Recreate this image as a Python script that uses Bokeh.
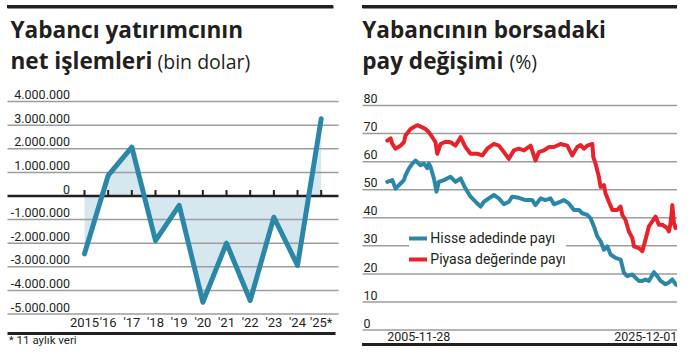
import math
from bokeh.plotting import figure
from bokeh.models import Range1d, Label, Legend, LegendItem
from bokeh.layouts import row
from bokeh.embed import file_html
from bokeh.resources import INLINE
from bokeh.core.properties import value

# ---------------- data: left chart (net transactions, thousand USD) ----------------
years = [2015, 2016, 2017, 2018, 2019, 2020, 2021, 2022, 2023, 2024, 2025]
year_labels = ["2015", "'16", "'17", "'18", "'19", "'20", "'21", "'22", "'23", "'24", "'25*"]
net_flows = [-2450000, 870000, 2070000, -1890000, -400000, -4500000,
             -2000000, -4430000, -900000, -2940000, 3270000]
left_ticks = [4000000, 3000000, 2000000, 1000000, 0, -1000000,
              -2000000, -3000000, -4000000, -5000000]
left_tick_labels = ["4.000.000", "3.000.000", "2.000.000", "1.000.000", "0",
                    "-1.000.000", "-2.000.000", "-3.000.000", "-4.000.000", "-5.000.000"]

# ---------------- data: right chart (foreign share, %) ----------------
count_t = [2005.91, 2006.26, 2006.48, 2006.83, 2007.06, 2007.17, 2007.40, 2007.64, 2007.86,
           2008.21, 2008.44, 2008.67, 2008.78, 2008.90, 2009.13, 2009.31, 2009.47, 2009.82,
           2010.28, 2010.62, 2010.97, 2011.31, 2011.66, 2012.12, 2012.35, 2012.58, 2012.92,
           2013.27, 2013.61, 2013.96, 2014.30, 2014.53, 2014.99, 2015.45, 2015.91, 2016.14,
           2016.49, 2016.83, 2017.18, 2017.41, 2017.75, 2018.10, 2018.44, 2018.79, 2019.13,
           2019.37, 2019.71, 2019.94, 2020.17, 2020.40, 2020.63, 2020.86, 2021.09, 2021.32,
           2021.66, 2022.01, 2022.24, 2022.47, 2022.82, 2023.04, 2023.27, 2023.51, 2023.73,
           2023.96, 2024.31, 2024.54, 2024.77, 2025.11, 2025.34, 2025.58, 2025.80, 2025.92]
count_share = [52.8, 53.4, 50.4, 52.2, 53.4, 55.1, 57.5, 59.3, 60.4,
               58.7, 59.3, 57.7, 59.3, 58.1, 54.0, 49.3, 52.8, 53.4,
               54.6, 52.8, 54.0, 50.4, 47.5, 45.1, 44.0, 45.7, 46.9,
               48.1, 46.9, 44.8, 45.7, 47.5, 47.1, 46.3, 46.3, 44.5,
               46.9, 46.3, 46.9, 44.8, 45.5, 46.3, 45.1, 42.8, 42.8,
               41.6, 41.0, 39.8, 36.9, 33.4, 31.6, 28.6, 29.8, 26.9,
               25.7, 25.1, 20.4, 19.2, 19.8, 18.6, 17.5, 17.5, 18.0,
               17.5, 20.6, 19.2, 17.5, 16.3, 16.9, 18.0, 16.3, 15.9]
value_t = [2005.91, 2006.14, 2006.26, 2006.48, 2006.83, 2007.06, 2007.17, 2007.52, 2007.98,
           2008.33, 2008.55, 2008.78, 2009.02, 2009.24, 2009.36, 2009.59, 2009.93, 2010.28,
           2010.62, 2010.97, 2011.31, 2011.66, 2012.12, 2012.47, 2012.81, 2013.27, 2013.61,
           2013.96, 2014.30, 2014.65, 2014.99, 2015.34, 2015.80, 2016.14, 2016.37, 2016.72,
           2017.06, 2017.41, 2017.87, 2018.33, 2018.67, 2019.02, 2019.25, 2019.48, 2019.71,
           2020.06, 2020.13, 2020.28, 2020.51, 2020.63, 2020.86, 2020.97, 2021.20, 2021.44,
           2021.78, 2022.01, 2022.13, 2022.35, 2022.58, 2022.82, 2022.93, 2023.27, 2023.51,
           2023.73, 2023.96, 2024.20, 2024.42, 2024.65, 2024.89, 2025.23, 2025.34, 2025.46,
           2025.58, 2025.69, 2025.80, 2025.92]
value_share = [67.5, 68.3, 66.3, 64.6, 65.7, 66.9, 69.3, 71.6, 73.0,
               72.2, 71.6, 70.5, 68.7, 66.9, 62.8, 66.3, 67.1, 66.9,
               65.7, 68.7, 65.2, 62.8, 62.8, 62.2, 64.6, 66.3, 65.7,
               63.4, 61.0, 64.0, 64.6, 64.0, 65.7, 60.4, 63.4, 64.0,
               65.2, 65.2, 66.3, 65.7, 62.2, 65.2, 65.9, 64.6, 65.7,
               66.3, 61.6, 59.3, 54.6, 51.0, 51.6, 48.7, 45.7, 42.8,
               42.8, 44.0, 41.0, 39.2, 35.1, 32.8, 29.8, 29.2, 28.1,
               32.2, 36.9, 38.7, 40.4, 37.5, 37.5, 36.3, 35.1, 38.1,
               44.5, 38.1, 36.3, 36.9]
right_ticks = [0, 10, 20, 30, 40, 50, 60, 70, 80]
right_tick_labels = ["0", "10", "20", "30", "40", "50", "60", "70", "80"]
date_labels = ["2005-11-28", "2025-12-01"]
legend_labels = ["Hisse adedinde payı", "Piyasa değerinde payı"]

# ---------------- styling ----------------
INK = "#231f20"
GRID = "#9d9d9d"
TEAL = "#2b87a7"
FILL = "#d7e7f0"
RED = "#e8222b"
NARROW = "Roboto"
TITLE_FONT = "Open Sans"
H = 346
W1, W2 = 344, 333
MID = 0.35   # text is drawn centred on its y: shift up by this many em to sit on a baseline


# figure-pixel -> data helpers (layout only)
def lx(px):
    return 2015 + (px - 84) / 23.67


def ly(py):
    return (195.5 - py) / 23.6 * 1e6


def rx(px):
    return 2005.907 + (px - 386.7) / 14.494


R_ZERO = 329.5
R_PX = (R_ZERO - 105.0) / 80.0


def ry(py):
    return (R_ZERO - py) / R_PX


def sy(py):
    return H - py


def make_fig(w, xr, yr, rules):
    p = figure(width=w, height=H, x_range=xr, y_range=yr, output_backend="svg",
               toolbar_location=None, x_axis_location=None, y_axis_location=None,
               title=None,
               min_border=0, min_border_left=0, min_border_right=0,
               min_border_top=0, min_border_bottom=0)
    p.outline_line_color = None
    p.xgrid.visible = False
    p.ygrid.visible = False
    # transparent canvas so the black rules painted on the host element show through
    p.background_fill_color = None
    p.border_fill_color = None
    grad = f"linear-gradient({INK}, {INK})"
    p.styles = {
        "background-color": "white",
        "background-image": ", ".join([grad] * len(rules)),
        "background-position": ", ".join(f"{x}px {y}px" for x, y, _, _ in rules),
        "background-size": ", ".join(f"{w_}px {h_}px" for _, _, w_, h_ in rules),
        "background-repeat": "no-repeat",
    }
    return p


def label(p, x, base, text, font, size, bold=False):
    p.add_layout(Label(x=x, y=sy(base) + MID * size, x_units="screen", y_units="screen",
                       text=text, text_font=font, text_font_size=f"{size}px",
                       text_font_style="bold" if bold else "normal", text_color=INK,
                       text_baseline="alphabetic"))


def titles(p, fx0, line1, line2, suffix, suffix_fx):
    label(p, fx0, 36.7, line1, TITLE_FONT, 22.6, True)
    label(p, fx0, 68.3, line2, TITLE_FONT, 22.6, True)
    label(p, suffix_fx, 68.3, suffix, TITLE_FONT, 19.5)


# ================= left chart =================
p1 = make_fig(W1, Range1d(lx(0), lx(W1)), Range1d(ly(H), ly(0)),
              rules=[(7, 5, 326, 3)])

p1.varea(x=years, y1=0, y2=net_flows, fill_color=FILL)
grid_vals = [t for t in left_ticks if t != 0]
p1.segment(x0=lx(7), x1=lx(338), y0=grid_vals, y1=grid_vals,
           line_color=GRID, line_width=1.5)
p1.segment(x0=[lx(7)], x1=[lx(338)], y0=[0], y1=[0], line_color=INK, line_width=2.5)
p1.ray(x=years, y=0, length=6, length_units="screen", angle=math.pi / 2,
       line_color=INK, line_width=2)
p1.line(years, net_flows, line_color=TEAL, line_width=5,
        line_join="round", line_cap="round")

p1.text(x=lx(69.5), y=left_ticks, text=left_tick_labels, text_font=value(NARROW),
        text_font_size="12.5px", text_color=INK, text_align="right",
        text_baseline="alphabetic", y_offset=-(2.5 + MID * 12.5))
p1.text(x=years, y=ly(327), text=year_labels, text_font=value(NARROW),
        text_font_size="13px", text_color=INK, text_align="center",
        text_baseline="alphabetic", y_offset=-MID * 13)

p1.quad(left=[lx(7)], right=[lx(333)], top=[ly(5)], bottom=[ly(8)],
        fill_color=INK, line_color=None)
p1.quad(left=[lx(7)], right=[lx(335)], top=[ly(331.5)], bottom=[ly(334.5)],
        fill_color=INK, line_color=None)

titles(p1, 10, "Yabancı yatırımcının", "net işlemleri", "(bin dolar)", 157)
label(p1, 8.3, 343.5, "* 11 aylık veri", NARROW, 11.5)

# ================= right chart =================
X0 = W1  # right figure's left edge in picture pixels
p2 = make_fig(W2, Range1d(rx(X0), rx(X0 + W2)), Range1d(ry(H), ry(0)),
              rules=[(362 - X0, 5, W2 - (362 - X0), 3), (362 - X0, 343, W2 - (362 - X0), 3)])

p2.segment(x0=rx(362), x1=rx(X0 + W2), y0=right_ticks, y1=right_ticks,
           line_color=GRID, line_width=1.5)
r_count = p2.line(count_t, count_share, line_color=TEAL, line_width=4,
                  line_join="round", line_cap="round")
r_value = p2.line(value_t, value_share, line_color=RED, line_width=4,
                  line_join="round", line_cap="round")

p2.text(x=rx(363), y=right_ticks, text=right_tick_labels, text_font=value(NARROW),
        text_font_size="12.5px", text_color=INK, text_align="left",
        text_baseline="alphabetic", y_offset=-(2.5 + MID * 12.5))
for i, align in [(0, "left"), (-1, "right")]:
    p2.text(x=[count_t[i]], y=ry(340), text=[date_labels[i]], text_font=value(NARROW),
            text_font_size="12.5px", text_color=INK, text_align=align,
            text_baseline="alphabetic", y_offset=-MID * 12.5)

p2.quad(left=[rx(362)], right=[rx(X0 + W2)], top=[ry(5)], bottom=[ry(8)],
        fill_color=INK, line_color=None)
p2.quad(left=[rx(362)], right=[rx(X0 + W2)], top=[ry(343)], bottom=[ry(346)],
        fill_color=INK, line_color=None)

legend = Legend(items=[LegendItem(label=legend_labels[0], renderers=[r_count]),
                       LegendItem(label=legend_labels[1], renderers=[r_value])],
                location=(412.3 - 3 - X0, sy(267)), orientation="vertical",
                label_text_font=NARROW, label_text_font_size="14px", label_text_color=INK,
                glyph_width=18, glyph_height=16, label_height=16, spacing=5,
                padding=3, margin=0, label_standoff=3,
                background_fill_color="white", background_fill_alpha=1.0,
                border_line_color=None)
p2.add_layout(legend)

titles(p2, 361.7 - X0, "Yabancının borsadaki", "pay değişimi", "(%)", 509 - X0)

layout = row(p1, p2)
open("out.html", "w").write(file_html(layout, INLINE))
